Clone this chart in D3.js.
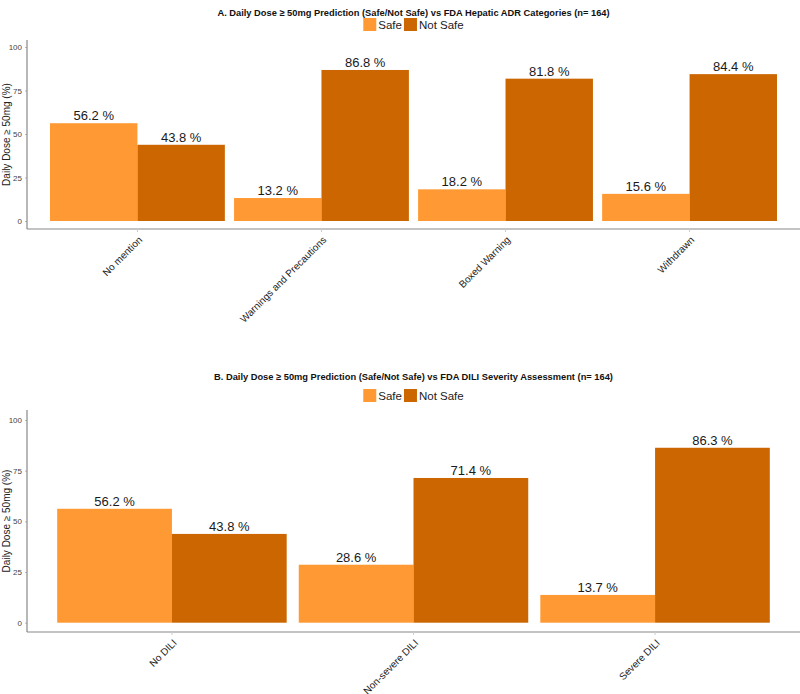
<!DOCTYPE html>
<html><head><meta charset="utf-8">
<script src="https://cdn.jsdelivr.net/npm/d3@7"></script>
<style>body{margin:0;background:#fff}svg{display:block}text{font-family:"Liberation Sans",Arial,sans-serif}</style>
</head><body><svg id="c" width="800" height="694"></svg>
<script>
const seriesNames = ["Safe", "Not Safe"];
const colors = ["#FF9933", "#CC6600"];
const yTicks = [0, 25, 50, 75, 100];

const titleA = "A. Daily Dose \u2265 50mg Prediction (Safe/Not Safe) vs FDA Hepatic ADR Categories (n= 164)";
const categoriesA = ["No mention", "Warnings and Precautions", "Boxed Warning", "Withdrawn"];
const safeA = [56.2, 13.2, 18.2, 15.6];
const notSafeA = [43.8, 86.8, 81.8, 84.4];

const titleB = "B. Daily Dose \u2265 50mg Prediction (Safe/Not Safe) vs FDA DILI Severity Assessment (n= 164)";
const categoriesB = ["No DILI", "Non-severe DILI", "Severe DILI"];
const safeB = [56.2, 28.6, 13.7];
const notSafeB = [43.8, 71.4, 86.3];

const yLabel = "Daily Dose \u2265 50mg (%)";

const svg = d3.select("#c");

function panel(cfg) {
  const g = svg.append("g");
  const left = 27, right = 800;
  const x = d3.scaleBand().domain(cfg.categories).range([left, right])
    .paddingInner(0.05).paddingOuter(0.125);
  const y = d3.scaleLinear().domain([0, 100]).range([cfg.y0, cfg.y100]);
  const xi = d3.scaleBand().domain(seriesNames).range([0, x.bandwidth()]).padding(0);
  const color = d3.scaleOrdinal().domain(seriesNames).range(colors);

  // title
  g.append("text").attr("x", (left + right) / 2).attr("y", cfg.titleY)
    .attr("text-anchor", "middle").attr("font-weight", "bold").attr("font-size", 9.3)
    .attr("fill", "#111").text(cfg.title);
  // legend (centered)
  const lg = g.append("g");
  const sq = 13, fs = 11.5;
  let cx = 0;
  const parts = seriesNames.map(name => {
    const t = lg.append("text").attr("font-size", fs).attr("fill", "#222").text(name);
    const w = t.node().getComputedTextLength();
    const p = {name, t, sx: cx, tx: cx + sq + 2, w};
    cx += sq + 2 + w + 2;
    return p;
  });
  const total = cx - 2;
  const x0 = (left + right) / 2 - total / 2;
  parts.forEach(p => {
    lg.append("rect").attr("x", x0 + p.sx).attr("y", cfg.legY).attr("width", sq).attr("height", sq)
      .attr("fill", color(p.name));
    p.t.attr("x", x0 + p.tx).attr("y", cfg.legY + 11);
  });

  const data = cfg.categories.map((c, i) => ({cat: c, vals: [
    {s: "Safe", v: cfg.safe[i]}, {s: "Not Safe", v: cfg.notSafe[i]}]}));

  const grp = g.selectAll("g.grp").data(data).join("g").attr("class", "grp")
    .attr("transform", d => `translate(${x(d.cat)},0)`);
  grp.selectAll("rect").data(d => d.vals).join("rect")
    .attr("x", d => xi(d.s)).attr("width", xi.bandwidth())
    .attr("y", d => y(d.v)).attr("height", d => y(0) - y(d.v))
    .attr("fill", d => color(d.s));
  grp.selectAll("text").data(d => d.vals).join("text")
    .attr("x", d => xi(d.s) + xi.bandwidth() / 2).attr("y", d => y(d.v) - 3)
    .attr("text-anchor", "middle").attr("font-size", 13).attr("fill", "#1a1a1a")
    .text(d => d.v.toFixed(1) + " %");

  // axes
  const yAxis = d3.axisLeft(y).tickValues(yTicks).tickSize(2).tickPadding(3);
  const ya = g.append("g").attr("transform", `translate(${left},0)`).call(yAxis);
  ya.select(".domain").remove();
  ya.selectAll(".tick line").attr("stroke", "#bbb");
  ya.selectAll(".tick text").attr("font-size", 8).attr("fill", "#444").attr("font-family", "Liberation Sans, Arial, sans-serif");
  g.append("line").attr("x1", left).attr("x2", left).attr("y1", cfg.top).attr("y2", cfg.bottom)
    .attr("stroke", "#888").attr("stroke-width", 1.2);
  g.append("line").attr("x1", left).attr("x2", right).attr("y1", cfg.bottom).attr("y2", cfg.bottom)
    .attr("stroke", "#888").attr("stroke-width", 1.2);

  const xAxis = d3.axisBottom(x).tickSize(3).tickPadding(3);
  const xa = g.append("g").attr("transform", `translate(0,${cfg.bottom})`).call(xAxis);
  xa.select(".domain").remove();
  xa.selectAll(".tick line").attr("stroke", "#ccc");
  xa.selectAll(".tick text").attr("font-size", 10).attr("fill", "#222")
    .attr("font-family", "Liberation Sans, Arial, sans-serif")
    .attr("text-anchor", "end").attr("x", 0).attr("y", 0).attr("dy", "0.35em")
    .attr("transform", "translate(3,9) rotate(-45)");

  g.append("text").attr("transform", `translate(10,${(cfg.top + cfg.bottom) / 2}) rotate(-90)`)
    .attr("text-anchor", "middle").attr("font-size", 10).attr("fill", "#222").text(yLabel);
}

panel({title: titleA, categories: categoriesA, safe: safeA, notSafe: notSafeA,
  titleY: 16, legY: 18, top: 40, bottom: 229, y0: 221, y100: 47});
panel({title: titleB, categories: categoriesB, safe: safeB, notSafe: notSafeB,
  titleY: 380, legY: 389, top: 410, bottom: 632, y0: 622.7, y100: 420});
</script></body></html>
